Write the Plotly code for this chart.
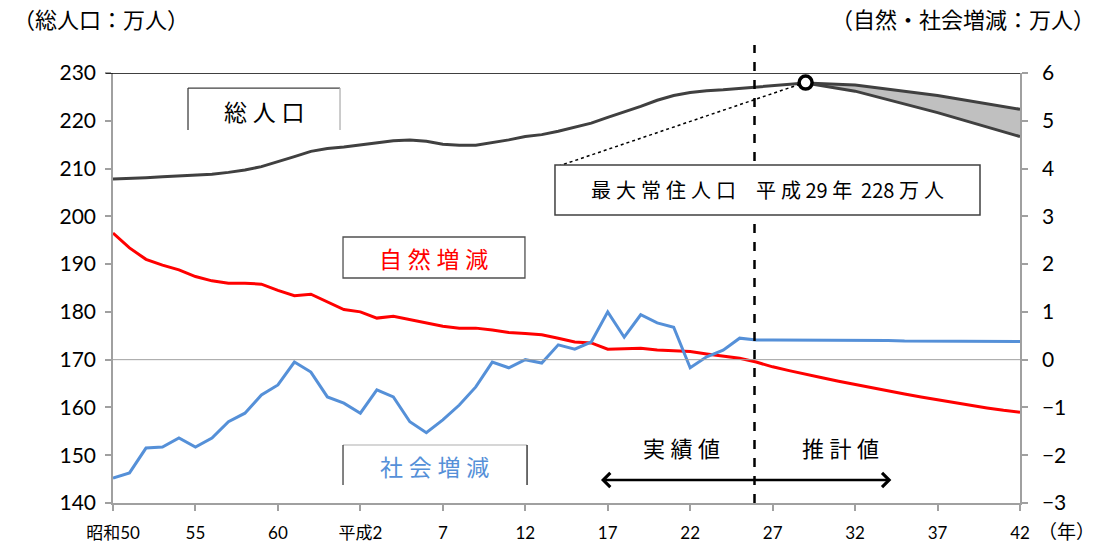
import plotly.graph_objects as go

# ---------------- data ----------------
years_actual = list(range(1975, 2018))
total_pop = [207.8, 207.9, 208.1, 208.3, 208.5, 208.6, 208.8, 209.2, 209.7, 210.4,
             211.4, 212.5, 213.6, 214.2, 214.5, 214.9, 215.4, 215.8, 216.0, 215.7,
             215.1, 214.9, 214.9, 215.4, 216.0, 216.7, 217.1, 217.8, 218.6, 219.5,
             220.7, 221.8, 223.0, 224.3, 225.3, 225.9, 226.3, 226.5, 226.8, 227.1,
             227.4, 227.7, 227.9]

proj_years = [2017, 2020, 2025, 2030]
proj_upper = [227.9, 227.5, 225.3, 222.4]
proj_lower = [227.9, 226.2, 221.7, 216.7]

peak_year = 2017
peak_pop = 228

years_change = list(range(1975, 2031))
natural = [2.65, 2.34, 2.10, 1.98, 1.88, 1.74, 1.65, 1.60, 1.60, 1.58,
           1.45, 1.34, 1.37, 1.21, 1.05, 1.00, 0.87, 0.91, 0.84, 0.78,
           0.70, 0.66, 0.66, 0.62, 0.57, 0.55, 0.52, 0.45, 0.37, 0.35,
           0.22, 0.23, 0.24, 0.20, 0.19, 0.17, 0.12, 0.07, 0.03, -0.05,
           -0.15, -0.23, -0.31, -0.38, -0.45, -0.52, -0.59, -0.66, -0.72, -0.78,
           -0.84, -0.90, -0.96, -1.01, -1.06, -1.10]
social = [-2.48, -2.37, -1.85, -1.83, -1.64, -1.83, -1.64, -1.30, -1.12, -0.74,
          -0.53, -0.05, -0.26, -0.78, -0.91, -1.12, -0.63, -0.78, -1.30, -1.53,
          -1.26, -0.95, -0.57, -0.05, -0.17, 0.00, -0.07, 0.31, 0.22, 0.37,
          1.00, 0.47, 0.94, 0.77, 0.68, -0.17, 0.06, 0.20, 0.45, 0.41,
          0.41, 0.41, 0.41, 0.40, 0.40, 0.40, 0.40, 0.40, 0.39, 0.39,
          0.39, 0.39, 0.38, 0.38, 0.38, 0.38]

tick_years = [1975, 1980, 1985, 1990, 1995, 2000, 2005, 2010, 2015, 2020, 2025, 2030]
tick_labels = ["昭和50", "55", "60", "平成2", "7", "12", "17", "22", "27", "32", "37", "42"]

boundary_year = 2013.9

FONT = "Lato, 'Noto Sans CJK JP', sans-serif"
JFONT = "'Noto Sans CJK JP', sans-serif"
GRAY = "#404040"
RED = "#ff0000"
BLUE = "#5590d8"
SP = "\u2005"  # four-per-em space for letter spacing


def spaced(s):
    return SP.join(list(s))


fig = go.Figure()

# projection band
fig.add_trace(go.Scatter(x=proj_years, y=proj_lower, mode="lines",
                         line=dict(color=GRAY, width=3), showlegend=False, hoverinfo="skip"))
fig.add_trace(go.Scatter(x=proj_years, y=proj_upper, mode="lines", fill="tonexty",
                         fillcolor="#c0c0c0",
                         line=dict(color=GRAY, width=3), showlegend=False, hoverinfo="skip"))
# total population
fig.add_trace(go.Scatter(x=years_actual, y=total_pop, mode="lines",
                         line=dict(color=GRAY, width=3), showlegend=False))

# natural & social change (right axis)
fig.add_trace(go.Scatter(x=years_change, y=natural, mode="lines", yaxis="y2",
                         line=dict(color=RED, width=3), showlegend=False))
fig.add_trace(go.Scatter(x=years_change, y=social, mode="lines", yaxis="y2",
                         line=dict(color=BLUE, width=3), showlegend=False))

# peak marker
fig.add_trace(go.Scatter(x=[peak_year], y=[peak_pop], mode="markers",
                         marker=dict(symbol="circle", size=13, color="white",
                                     line=dict(color="black", width=3.5)),
                         showlegend=False))

shapes = []
# top border line
shapes.append(dict(type="line", xref="paper", yref="y", x0=-0.008, x1=1.0, y0=230, y1=230,
                   line=dict(color="black", width=1.5)))
# zero line on right axis
shapes.append(dict(type="line", xref="paper", yref="y2", x0=0, x1=1, y0=0, y1=0,
                   line=dict(color="#a0a0a0", width=1)))
# dashed boundary
shapes.append(dict(type="line", xref="x", yref="paper", x0=boundary_year, x1=boundary_year,
                   y0=0, y1=1.065, line=dict(color="black", width=2.5, dash="dash")))
# dotted leader line from box to peak
shapes.append(dict(type="line", xref="x", yref="y", x0=2002.0, y0=210.5, x1=peak_year - 0.3, y1=227.7,
                   line=dict(color="black", width=1.5, dash="dot")))
# annotation box
shapes.append(dict(type="rect", xref="paper", yref="paper", x0=0.4873, x1=0.9559, y0=0.6698, y1=0.786,
                   line=dict(color="#404040", width=1.5), fillcolor="white"))


def seg(x0, y0, x1, y1, color="#404040", w=1.3):
    shapes.append(dict(type="line", xref="paper", yref="paper", x0=x0, y0=y0, x1=x1, y1=y1,
                       line=dict(color=color, width=w)))


# 総人口 box: top, left, right
seg(0.0827, 0.965, 0.2503, 0.965)
seg(0.0827, 0.965, 0.0827, 0.8674)
seg(0.2503, 0.965, 0.2503, 0.8674, color="#b0b0b0")
# 自然増減 box: full
shapes.append(dict(type="rect", xref="paper", yref="paper", x0=0.2536, x1=0.4542, y0=0.5233, y1=0.6186,
                   line=dict(color="#505050", width=1.3), fillcolor="white"))
# 社会増減 box: top (faint), left, right
seg(0.2536, 0.1349, 0.4565, 0.1349, color="#c8c8c8")
seg(0.2536, 0.1349, 0.2536, 0.0419)
seg(0.4565, 0.1349, 0.4565, 0.0419, color="#202020")


def ann(text, x, y, size, color="black", xref="paper", yref="paper", xanchor="center"):
    return dict(text=text, x=x, y=y, xref=xref, yref=yref, xanchor=xanchor, yanchor="middle",
                showarrow=False, font=dict(family=JFONT, size=size, color=color))


annotations = []
box_text = spaced("最大常住人口") + "　" + spaced("平成") + " 29 年  228 " + spaced("万人")
annotations.append(ann(box_text, 0.7216, 0.728, 20))
annotations.append(ann(spaced("総人口"), 0.1665, 0.9116, 23))
annotations.append(ann(spaced("自然増減"), 0.3539, 0.5698, 23, RED))
annotations.append(ann(spaced("社会増減"), 0.355, 0.086, 23, BLUE))
# arrow
annotations.append(dict(text="", x=2022.2, y=144.8, ax=2004.5, ay=144.8, xref="x", yref="y",
                        axref="x", ayref="y", showarrow=True, arrowhead=4, startarrowhead=4,
                        arrowside="end+start", arrowwidth=2.5, arrowsize=1.1, startarrowsize=1.1,
                        arrowcolor="black"))
annotations.append(ann(spaced("実績値"), 2009.5, 151.7, 22, xref="x", yref="y"))
annotations.append(ann(spaced("推計値"), 2019.1, 151.7, 22, xref="x", yref="y"))
# axis titles
annotations.append(ann("（総人口：万人）", -0.112, 1.128, 22, xanchor="left"))
annotations.append(ann("（自然・社会増減：万人）", 1.085, 1.128, 22, xanchor="right"))
annotations.append(ann("（年）", 1.018, -0.063, 19, xanchor="left"))

axis_common = dict(showgrid=False, zeroline=False, showline=True, linecolor="#a0a0a0",
                   linewidth=1.5, ticks="outside", ticklen=6, tickcolor="#a0a0a0",
                   tickwidth=1.5, automargin=False)

fig.update_layout(
    width=1097, height=548,
    margin=dict(l=113, r=77, t=73, b=45, autoexpand=False),
    paper_bgcolor="white", plot_bgcolor="white",
    font=dict(family=FONT, color="black"),
    shapes=shapes, annotations=annotations,
    xaxis=dict(range=[1975, 2030], tickvals=tick_years, ticktext=tick_labels,
               ticklabelstandoff=8,
               tickfont=dict(family=FONT, size=17, color="black"), **axis_common),
    yaxis=dict(range=[140, 230], dtick=10, ticklabelstandoff=5,
               tickfont=dict(family=FONT, size=21, color="black"), **axis_common),
    yaxis2=dict(range=[-3, 6], dtick=1, overlaying="y", side="right", ticklabelstandoff=10,
                tickfont=dict(family=FONT, size=21, color="black"), **axis_common),
)

fig.write_html("out.html", config={"displayModeBar": False},
               post_script="document.body.style.margin='0';document.body.style.overflow='hidden';")
